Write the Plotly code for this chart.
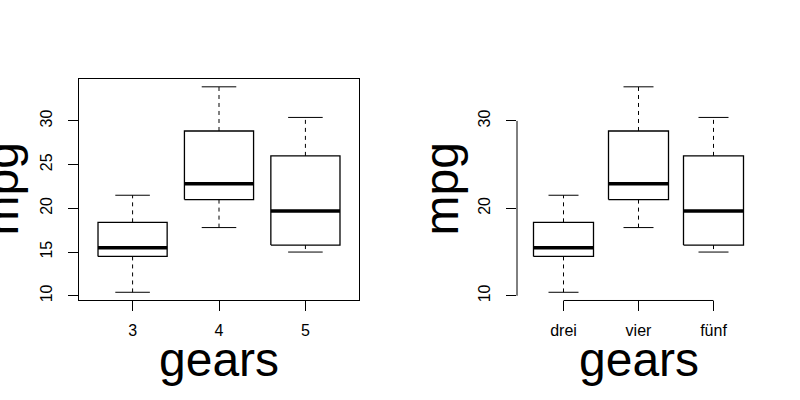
import plotly.graph_objects as go

# box statistics of mpg by number of gears
gears = ['3', '4', '5']
gears_de = ['drei', 'vier', 'fünf']
lower = [10.4, 17.8, 15.0]
q1 = [14.5, 21.0, 15.8]
median = [15.5, 22.8, 19.7]
q3 = [18.4, 28.85, 26.0]
upper = [21.5, 33.9, 30.4]

yticks_left = [10, 15, 20, 25, 30]
yticks_right = [10, 20, 30]

FONT = 'Liberation Sans, Arial, sans-serif'
BOXHW = 0.4     # half box width (boxwex 0.8)
STAPLEHW = 0.2  # half staple width


def box_traces(xa, ya):
    pos = list(range(1, len(q1) + 1))
    bx, by, mx, my, wx, wy, sx, sy = [], [], [], [], [], [], [], []
    for p, lo, a, m, b, hi in zip(pos, lower, q1, median, q3, upper):
        bx += [p - BOXHW, p + BOXHW, p + BOXHW, p - BOXHW, p - BOXHW, None]
        by += [a, a, b, b, a, None]
        mx += [p - BOXHW, p + BOXHW, None]
        my += [m, m, None]
        wx += [p, p, None, p, p, None]
        wy += [b, hi, None, a, lo, None]
        sx += [p - STAPLEHW, p + STAPLEHW, None, p - STAPLEHW, p + STAPLEHW, None]
        sy += [hi, hi, None, lo, lo, None]
    common = dict(xaxis=xa, yaxis=ya, mode='lines', showlegend=False, hoverinfo='skip')
    return [
        go.Scatter(x=wx, y=wy, line=dict(color='black', width=1, dash='4px,4px'), **common),
        go.Scatter(x=sx, y=sy, line=dict(color='black', width=1), **common),
        go.Scatter(x=bx, y=by, line=dict(color='black', width=1.3), fill='toself',
                   fillcolor='white', **common),
        go.Scatter(x=mx, y=my, line=dict(color='black', width=3.5), **common),
    ]


fig = go.Figure()
for t in box_traces('x', 'y') + box_traces('x2', 'y2'):
    fig.add_trace(t)

n = len(q1)
xpad = 0.04 * n
xrange = [0.5 - xpad, n + 0.5 + xpad]
ylo, yhi = min(lower), max(upper)
ypad = 0.04 * (yhi - ylo)
yrange = [ylo - ypad, yhi + ypad]

ydom = [1 - 302 / 400, 1 - 79 / 400]
tick_style = dict(ticks='outside', ticklen=10, tickwidth=1, tickcolor='black',
                  showgrid=False, zeroline=False,
                  tickfont=dict(family=FONT, size=16, color='black'))

fig.update_layout(
    width=800, height=400,
    margin=dict(l=0, r=0, t=0, b=0),
    paper_bgcolor='white', plot_bgcolor='white',
    font=dict(family=FONT, color='black'),
    xaxis=dict(domain=[79 / 800, 359 / 800], range=xrange, tickmode='array',
               tickvals=[1, 2, 3], ticktext=gears, showline=True, mirror=True,
               linecolor='black', linewidth=1, ticklabelstandoff=5, **tick_style),
    yaxis=dict(domain=ydom, range=yrange, tickmode='array', tickvals=yticks_left,
               tickangle=-90, showline=True, mirror=True, linecolor='black',
               linewidth=1, ticklabelstandoff=10, **tick_style),
    xaxis2=dict(domain=[517 / 800, 760 / 800], range=xrange, anchor='y2',
                tickmode='array', tickvals=[1, 2, 3], ticktext=gears_de,
                showline=False, ticklabelstandoff=5, **tick_style),
    yaxis2=dict(domain=ydom, range=yrange, anchor='x2', tickmode='array',
                tickvals=yticks_right, tickangle=-90, showline=False,
                ticklabelstandoff=10, **tick_style),
)

# axis lines of the right panel only span the tick range
fig.add_shape(type='line', xref='x2 domain', yref='y2', x0=0, x1=0,
              y0=yticks_right[0], y1=yticks_right[-1], line=dict(color='black', width=1))
fig.add_shape(type='line', xref='x2', yref='y2 domain', x0=1, x1=n, y0=0, y1=0,
              line=dict(color='black', width=1))

# big axis labels
for xa, ya, xc in [('x', 'y', 2 / 800), ('x2', 'y2', 442 / 800)]:
    fig.add_annotation(text='gears', xref=xa + ' domain', x=0.5, yref='paper',
                       y=1 - 361 / 400, xanchor='center', yanchor='middle',
                       showarrow=False, font=dict(family=FONT, size=48, color='black'))
    fig.add_annotation(text='mpg', xref='paper', x=xc, yref=ya + ' domain', y=0.5,
                       xanchor='center', yanchor='middle', textangle=-90,
                       showarrow=False, font=dict(family=FONT, size=48, color='black'))

fig.write_html('out.html', config={'displayModeBar': False},
               post_script="document.body.style.margin='0';")
